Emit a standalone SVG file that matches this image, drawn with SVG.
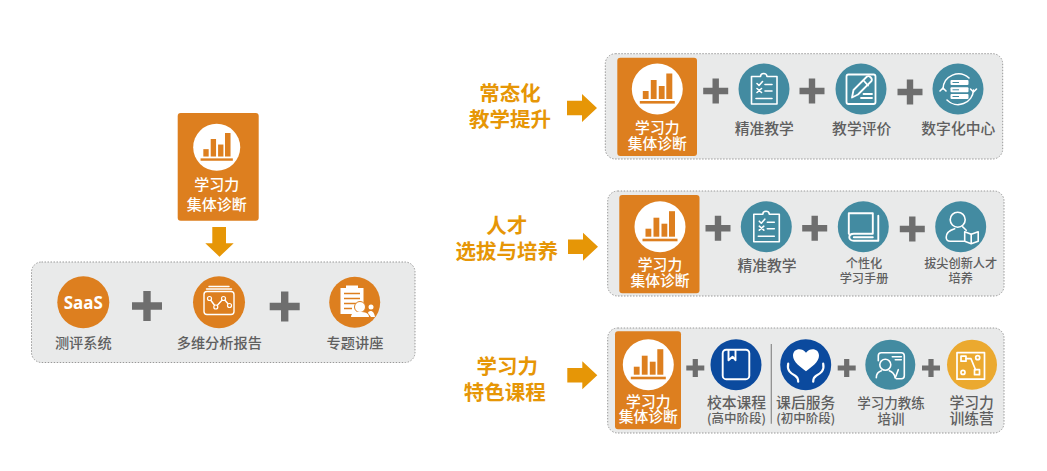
<svg xmlns="http://www.w3.org/2000/svg" width="1047" height="471" viewBox="0 0 1047 471">
<style>
text{font-family:"Noto Sans CJK SC","Noto Sans",sans-serif;text-anchor:middle}
.panel{fill:#e9eaea;stroke:#999;stroke-width:1;stroke-dasharray:1.5 1.5}
.card{fill:#dd7f1f}
.wt{fill:#fff;font-weight:500}
.lb{fill:#5f5f5f;font-weight:500}
.hd{fill:#e69606;font-weight:700;font-size:20.500px}
.arrow{fill:#e69606}
.plus{fill:#6e6e6e}
.teal{fill:#438ba1}
.org{fill:#dd7f1f}
.ic{fill:none;stroke:#fff;stroke-width:1.600;stroke-linecap:round;stroke-linejoin:round}
.icf{fill:#fff}
</style>
<defs>
<g id="bars"><circle r="25.500" fill="#fff"/><g fill="#dd7f1f"><rect x="-14.500" y="2" width="5.800" height="8"/><rect x="-6.500" y="-9" width="5.800" height="19"/><rect x="1.500" y="-3" width="5.800" height="13"/><rect x="9" y="-15.500" width="6" height="25.500"/><rect x="-17.500" y="12" width="35" height="2.600"/></g></g>
<g id="clip"><circle r="25.500" class="teal"/><g class="ic"><path d="M-12.500-12.500H-3.500C-3.500-16.500 3-16.500 3-12.500H13V15H-12.500Z"/><path d="M-7-5.500-5-3.500-1.500-7.500M-7-0.500-2.500 3.500M-2.500-0.500-7 3.500M1-4.500H8M1 2H8M-8 9.500H8"/></g></g>
<g id="pencil"><circle r="25.500" class="teal"/><g class="ic" style="stroke-width:1.800"><rect x="-14.500" y="-14.500" width="29" height="29.500" rx="2"/><path d="M-9 8.500-7.500 1 6-12.500C8-14 12-10.500 10.500-8L-3 5.500Z"/><path d="M3-8 7-3.500M2.500 5H11M0 9H11"/></g></g>
<g id="digital"><circle r="25.500" class="teal"/><g class="ic"><path d="M-15 0A15.500 15.500 0 0 1 11-11M15.500 1A15.500 15.500 0 0 1-11 11"/><path d="M-18 2-15-1-12 2M12.500 0 15.500 3 18.500 0"/></g><g class="icf"><rect x="-7.500" y="-9" width="18" height="5" rx="1"/><rect x="-7.500" y="-1.700" width="18" height="5" rx="1"/><rect x="-7.500" y="5" width="18" height="5" rx="1"/></g><path d="M-5.500-6.500H1M-5.500 0.800H1M-5.500 7.500H1" stroke="#438ba1" stroke-width="1"/></g>
<g id="book"><circle r="25.500" class="teal"/><g class="ic" style="stroke-width:1.900"><path d="M-14.500 7V-13.500H9.500V7H-9.500C-15.500 7-15.500 14-9.500 14H15V-11"/><path d="M-9.500 10.500H9.500"/></g></g>
<g id="reader"><circle r="25.500" class="teal"/><g class="ic"><circle cx="-3" cy="-7" r="7.500"/><path d="M-6 2C-11 3.500-14.500 6.500-14.500 10.500-14.500 13-13 14.500-10.500 14.500H3"/><path d="M4 5 10.500 7.500 17.500 5V14.500L10.500 17 4 14.500Z"/><path d="M10.500 7.500V16.500"/><path d="M2 0 5.500 3.500"/></g></g>
<g id="bookmark"><circle r="25.500" fill="#0b4a9e"/><g class="ic" style="stroke-width:1.900"><rect x="-13.300" y="-15" width="26.600" height="29.500" rx="3.500"/><path d="M-7.500-14.500V-4.500L-3.500-8-0.500-4.500V-14.500"/></g></g>
<g id="heart"><circle r="25.500" fill="#0b4a9e"/><path d="M0 4C-5 0-13-5-13-11.500-13-19-4-20 0-14.500 4-20 13-19 13-11.500 13-5 5 0 0 4Z" class="icf" transform="translate(0.300 2.500)"/><g class="ic" style="stroke-width:2.200"><path d="M-17.500-1C-19 6-15 8.500-10.500 11-8 12.500-7.500 14-7.500 17M17.500-1C19 6 15 8.500 10.500 11 8 12.500 7.500 14 7.500 17"/></g></g>
<g id="trainer"><circle r="25" class="teal"/><g class="ic"><path d="M-12-4V-9C-12-11-11-12-9-12H11C13-12 14-11 14-9V11C14 13 13 14 11 14H6"/><circle cx="-5" cy="0" r="5.500"/><path d="M-14 13C-14 9-12 7-9 6M-1 6C2 7 4 9 5 13"/><path d="M2-8H11M5-5H11M8 5 5 13"/></g></g>
<g id="circuit"><circle r="25" fill="#eba92f"/><g class="ic" style="stroke-width:1.700"><rect x="-15" y="-12" width="27.500" height="26.500"/><rect x="-11" y="-8.500" width="5" height="5"/><rect x="2.500" y="5" width="5" height="5"/><circle cx="5.700" cy="-7" r="2"/><circle cx="-9" cy="7.700" r="2"/><path d="M-6-6H-1L3.500 5"/></g></g>
<path id="pl" d="M-3.700-15H3.700V-3.700H15V3.700H3.700V15H-3.700V3.700H-15V-3.700H-3.700Z"/>
<path id="pm" d="M-3.200-12.500H3.200V-3.200H12.500V3.200H3.200V12.500H-3.200V3.200H-12.500V-3.200H-3.200Z"/>
<path id="ps" d="M-2.600-9H2.600V-2.600H9V2.600H2.600V9H-2.600V2.600H-9V-2.600H-2.600Z"/>
<path id="ar" d="M-15-7.200H0V-14L15 0 0 14V7.200H-15Z"/>
</defs>

<g id="connectors">
<path class="arrow" d="M212.300 227H226V243.300H233.700L219.500 256.700 205.300 243.300H212.300Z"/>
<use href="#ar" class="arrow" x="582" y="108"/>
<use href="#ar" class="arrow" x="583" y="246.700"/>
<use href="#ar" class="arrow" x="582.300" y="375.300"/>
</g>

<g id="left-panel"><rect class="panel" x="31.500" y="262" width="383.500" height="100.500" rx="10"/></g>
<g id="left-card"><rect class="card" x="177.700" y="113" width="81" height="107.700" rx="3"/>
<use href="#bars" transform="translate(216.700 147.300) scale(.922)"/>
<text class="wt" font-size="15"><tspan x="216.700" y="190">学习力</tspan><tspan x="216.700" y="209.500">集体诊断</tspan></text></g>
<g id="left-saas"><circle class="org" cx="83.300" cy="302.300" r="26"/><text x="83.300" y="308.500" font-size="17" font-weight="700" fill="#fff" style="font-family:'Noto Sans',sans-serif">SaaS</text><text class="lb" x="83.300" y="347.500" font-size="14.200">测评系统</text></g>
<use href="#pl" class="plus" x="147" y="306"/>
<g id="left-report"><circle class="org" cx="219" cy="302.300" r="26"/><g class="ic" style="stroke-width:1.400"><rect x="204" y="291.500" width="30" height="23" rx="3"/><path d="M209 286.500H229M206.500 289H231.500"/><path d="M209.500 298.500 215.800 307 223.500 298.500 229.500 305.500"/></g><g fill="#dd7f1f" stroke="#fff" stroke-width="1.200"><circle cx="209.500" cy="298.500" r="2"/><circle cx="215.800" cy="307" r="2"/><circle cx="223.500" cy="298.500" r="2"/><circle cx="229.500" cy="305.500" r="2"/></g><text class="lb" x="219.300" y="347.500" font-size="14.200">多维分析报告</text></g>
<use href="#pl" class="plus" x="284.700" y="306.500"/>
<g id="left-lecture"><circle class="org" cx="354.700" cy="302.300" r="25.500"/><path class="icf" d="M340.500 288H346V285.500H358V288H363.500V306H358V314H340.500Z"/><path d="M344 293.500H360M344 298.500H360M344 303.500H356M344 308.500H352" stroke="#dd7f1f" stroke-width="1.600"/><circle cx="360" cy="307" r="5.500" fill="#fff" stroke="#dd7f1f"/><path class="icf" d="M351 317C351 313 355 312 360 312S369 313 369 317ZM368 313C369 310 374 310 375 317H371Z"/><circle cx="371" cy="307" r="2.500" class="icf"/><text class="lb" x="355" y="347.500" font-size="14.200">专题讲座</text></g>

<text class="hd"><tspan x="510" y="101">常态化</tspan><tspan x="510" y="126.500">教学提升</tspan></text>
<text class="hd"><tspan x="506.700" y="233">人才</tspan><tspan x="506.700" y="258.500">选拔与培养</tspan></text>
<text class="hd"><tspan x="507.300" y="374.300">学习力</tspan><tspan x="504.700" y="399.500">特色课程</tspan></text>

<g id="row1"><rect class="panel" x="605.300" y="53.700" width="397.400" height="105.300" rx="10"/></g>
<g id="r1-card"><rect class="card" x="617.300" y="57.700" width="79.700" height="98.300" rx="3"/><use href="#bars" x="657.300" y="89"/><text class="wt" font-size="14.800"><tspan x="657.300" y="133">学习力</tspan><tspan x="657.300" y="148.500">集体诊断</tspan></text></g>
<use href="#pm" class="plus" x="715.700" y="91"/>
<g id="r1-a"><use href="#clip" x="764" y="89"/><text class="lb" x="764.300" y="134" font-size="14.800">精准教学</text></g>
<use href="#pm" class="plus" x="812" y="91"/>
<g id="r1-b"><use href="#pencil" x="861" y="89"/><text class="lb" x="861.700" y="134" font-size="14.800">教学评价</text></g>
<use href="#pm" class="plus" x="910" y="92"/>
<g id="r1-c"><use href="#digital" x="958" y="89"/><text class="lb" x="958.300" y="134" font-size="14.800">数字化中心</text></g>

<g id="row2"><rect class="panel" x="607.700" y="191" width="396.300" height="105" rx="10"/></g>
<g id="r2-card"><rect class="card" x="619.300" y="195" width="80.200" height="98.300" rx="3"/><use href="#bars" x="660" y="226.700"/><text class="wt" font-size="14.800"><tspan x="660" y="270">学习力</tspan><tspan x="660" y="285.500">集体诊断</tspan></text></g>
<use href="#pm" class="plus" x="718" y="228.300"/>
<g id="r2-a"><use href="#clip" x="766.300" y="226.700"/><text class="lb" x="767" y="270.500" font-size="14.800">精准教学</text></g>
<use href="#pm" class="plus" x="814.700" y="228.300"/>
<g id="r2-b"><use href="#book" x="863.300" y="226.700"/><text class="lb" font-size="12.200"><tspan x="864" y="267.500">个性化</tspan><tspan x="864" y="283">学习手册</tspan></text></g>
<use href="#pm" class="plus" x="912.300" y="229"/>
<g id="r2-c"><use href="#reader" x="960.700" y="226.700"/><text class="lb" font-size="12.200"><tspan x="960.700" y="267.500">拔尖创新人才</tspan><tspan x="960.700" y="283">培养</tspan></text></g>

<g id="row3"><rect class="panel" x="607.700" y="328" width="396.300" height="105" rx="10"/></g>
<g id="r3-card"><rect class="card" x="615" y="331.300" width="66" height="98" rx="3"/><use href="#bars" x="648.300" y="364.700"/><text class="wt" font-size="14.800"><tspan x="648.300" y="406.500">学习力</tspan><tspan x="648.300" y="422">集体诊断</tspan></text></g>
<use href="#ps" class="plus" x="695.300" y="368"/>
<g id="r3-a"><use href="#bookmark" x="736" y="364.700"/><text class="lb"><tspan x="736.500" y="408" font-size="14.800">校本课程</tspan><tspan x="736.500" y="423" font-size="12.500">(高中阶段)</tspan></text></g>
<path d="M771.300 344V423.700" stroke="#8a8a8a" stroke-width="1.200"/>
<g id="r3-b"><use href="#heart" x="805.700" y="364.700"/><text class="lb"><tspan x="805.700" y="408" font-size="14.800">课后服务</tspan><tspan x="805.700" y="423" font-size="12.500">(初中阶段)</tspan></text></g>
<use href="#ps" class="plus" x="846.700" y="368"/>
<g id="r3-c"><use href="#trainer" x="890.300" y="364.700"/><text class="lb" font-size="13.500"><tspan x="891" y="408">学习力教练</tspan><tspan x="891" y="423.500">培训</tspan></text></g>
<use href="#ps" class="plus" x="931" y="368"/>
<g id="r3-d"><use href="#circuit" x="972" y="364.700"/><text class="lb" font-size="14.800"><tspan x="971.700" y="408">学习力</tspan><tspan x="971.700" y="423.500">训练营</tspan></text></g>
</svg>
